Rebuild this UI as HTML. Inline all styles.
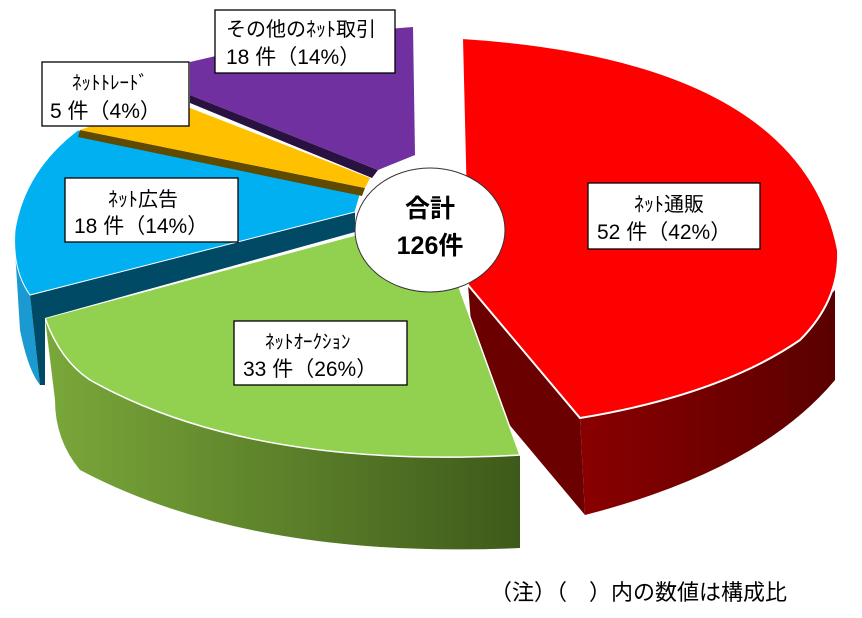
<!DOCTYPE html>
<html><head><meta charset="utf-8"><style>
body{margin:0;background:#fff;width:862px;height:618px;overflow:hidden}
svg{display:block}
text{font-family:"Liberation Sans","Noto Sans CJK JP",sans-serif;fill:#000}
</style></head><body>
<svg width="862" height="618" viewBox="0 0 862 618">
<defs>
<linearGradient id="gs" x1="0" x2="1" y1="0" y2="0"><stop offset="0" stop-color="#7aa83a"/><stop offset="1" stop-color="#3e5a1a"/></linearGradient>
<linearGradient id="rs" x1="0" x2="1"><stop offset="0" stop-color="#8a0000"/><stop offset="1" stop-color="#5a0000"/></linearGradient>
</defs>
<path d="M468 285 L580 418 L585 515 L476 385 Z" fill="#6a0000"/>
<path d="M580 418 Q760 370 835 290 L835 380 Q760 470 585 515 Z" fill="url(#rs)"/>
<path d="M462 38 Q800 60 838 250 Q840 300 800 340 Q720 395 580 418 L468 285 Z" fill="#ff0000" stroke="#fff" stroke-width="2"/>
<path d="M45 318 Q60 360 90 380 Q250 470 520 455 L520 548 Q250 560 80 470 Q55 440 55 400 Z" fill="url(#gs)"/>
<path d="M45 318 L355 235 L450 262 L520 455 Q250 470 90 380 Q60 360 45 318 Z" fill="#92d050" stroke="#fff" stroke-width="1.5"/>
<path d="M15 250 Q18 280 30 295 L40 385 Q28 370 20 330 Z" fill="#1a9ad0"/>
<path d="M30 295 L355 212 L355 232 L45 318 L45 385 L40 385 Z" fill="#004a66"/>
<path d="M78 130 L360 195 L355 212 L30 295 Q12 270 15 230 Q25 170 78 130 Z" fill="#00b0f0" stroke="#fff" stroke-width="1"/>
<path d="M80 130 L365 188 L362 196 L78 137 Z" fill="#604a00"/>
<path d="M190 108 L370 178 L365 188 L80 130 Q120 115 190 108 Z" fill="#ffc000"/>
<path d="M190 95 L378 170 L372 178 L190 103 Z" fill="#2a1240"/>
<path d="M190 62 Q300 35 413 27 L415 155 L378 170 L190 95 Z" fill="#7030a0"/>
<ellipse cx="430" cy="230" rx="75" ry="62" fill="#fff" stroke="#333" stroke-width="1"/>
<text x="430" y="217" font-size="25" font-weight="bold" text-anchor="middle">合計</text>
<text x="430" y="254" font-size="25" font-weight="bold" text-anchor="middle">126件</text>
<g stroke="#000" stroke-width="1.3" fill="#fff">
<rect x="215" y="10" width="180" height="63"/>
<rect x="42" y="62" width="147" height="64"/>
<rect x="65" y="178" width="173" height="64"/>
<rect x="588" y="183" width="172" height="66"/>
<rect x="234" y="321" width="173" height="64"/>
</g>
<g font-size="21">
<text x="226" y="36" font-size="20">その他の<tspan font-size="20">ﾈｯﾄ</tspan>取引</text>
<text x="226" y="64">18 件（14%）</text>
<text x="72" y="89" font-size="19">ﾈｯﾄﾄﾚｰﾄﾞ</text>
<text x="50" y="118">5 件（4%）</text>
<text x="108" y="206" font-size="20">ﾈｯﾄ広告</text>
<text x="74" y="233">18 件（14%）</text>
<text x="634" y="211" font-size="20">ﾈｯﾄ通販</text>
<text x="597" y="239">52 件（42%）</text>
<text x="265" y="348" font-size="19">ﾈｯﾄｵｰｸｼｮﾝ</text>
<text x="243" y="376">33 件（26%）</text>
<text x="490" y="600" font-size="22">（注）（　）内の数値は構成比</text>
</g>
</svg>
</body></html>
